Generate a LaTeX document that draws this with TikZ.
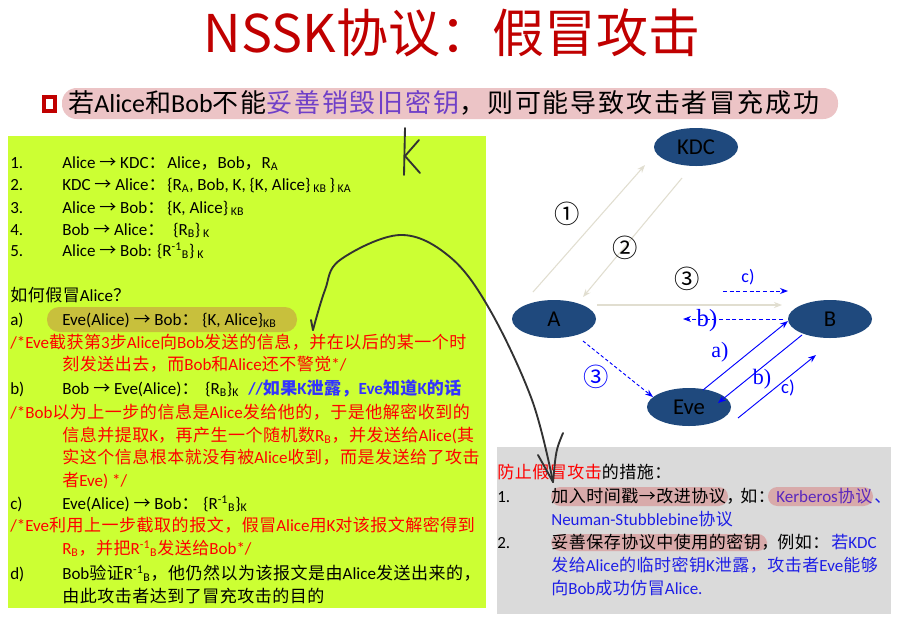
\documentclass[tikz,border=0pt]{standalone}
\usepackage{fontspec}
\usetikzlibrary{shapes.geometric,arrows.meta,calc}
\newfontfamily\cjkplain{Noto Sans CJK SC}
\newfontfamily\cjk[LetterSpace=3]{Noto Sans CJK SC}
\newfontfamily\cjkwide[LetterSpace=7]{Noto Sans CJK SC}
\newfontfamily\calibri{Carlito}
\newfontfamily\serifface{Liberation Serif}
% Han characters, CJK punctuation, full-width forms and arrows are set in the CJK face
% held by \hanfont, everything else in Carlito.
\let\hanfont\cjk
\XeTeXinterchartokenstate=1
\newXeTeXintercharclass\hanclass
\count255="4E00
\loop\XeTeXcharclass\count255=\hanclass\advance\count255 by 1 \ifnum\count255<"A000 \repeat
\count255="3000
\loop\XeTeXcharclass\count255=\hanclass\advance\count255 by 1 \ifnum\count255<"3040 \repeat
\count255="FF00
\loop\XeTeXcharclass\count255=\hanclass\advance\count255 by 1 \ifnum\count255<"FFF0 \repeat
\XeTeXcharclass"2192=\hanclass
\XeTeXinterchartoks 0 \hanclass = {\hanfont}
\XeTeXinterchartoks 4095 \hanclass = {\hanfont}
\XeTeXinterchartoks \hanclass 0 = {\calibri}
\XeTeXinterchartoks \hanclass 4095 = {\calibri}
\definecolor{titlered}{RGB}{192,0,0}
\definecolor{limebg}{RGB}{204,255,51}
\definecolor{graybg}{RGB}{218,218,218}
\definecolor{olivepill}{RGB}{200,192,60}
\definecolor{pinkpill}{RGB}{216,170,170}
\definecolor{headpill}{RGB}{236,196,198}
\definecolor{nodeblue}{RGB}{31,73,125}
\definecolor{paleline}{RGB}{225,222,208}
\definecolor{pureblue}{RGB}{0,0,255}
\definecolor{noteblue}{RGB}{51,51,255}
\definecolor{tipblue}{RGB}{30,30,230}
\definecolor{kbpurple}{RGB}{90,40,190}
\definecolor{keypurple}{RGB}{112,64,200}
\definecolor{inkgray}{RGB}{50,50,50}
\begin{document}
\begin{tikzpicture}[x=0.75pt,y=-0.75pt,
  body/.style={anchor=base west, inner sep=0pt, font=\calibri\fontsize{12.75}{15}\selectfont},
  redtxt/.style={body, text=red},
  party/.style={ellipse, fill=nodeblue, minimum width=63pt, minimum height=28.5pt, inner sep=0pt,
                font=\calibri\fontsize{17}{17}\selectfont, text=black},
  circnum/.style={font=\cjkplain\fontsize{19}{19}\selectfont},
  steplabel/.style={font=\serifface\fontsize{16.5}{17}\selectfont, text=pureblue},
  pale/.style={paleline, line width=0.8pt, -{Stealth[length=6pt,width=4.5pt]}},
  blu/.style={pureblue, line width=0.7pt, -{Stealth[length=6pt,width=4.5pt]}},
  bludash/.style={blu, dash pattern=on 3pt off 2pt},
  ink/.style={inkgray, line width=1.4pt, line cap=round, line join=round}
]
\useasboundingbox (0,0) rectangle (900,622);
\fill[white] (0,0) rectangle (900,622);

% heading
\node[font=\let\hanfont\cjkplain\cjkplain\fontsize{39}{39}\selectfont, text=titlered] (title) at (452,33) {NSSK协议：假冒攻击};
\fill[headpill, rounded corners=11pt] (62,88) rectangle (838,119);
\draw[titlered, line width=2.3pt] (44,97) rectangle (55,111);
\node[anchor=west, inner sep=0pt, font=\let\hanfont\cjkwide\cjkwide\fontsize{19.5}{20}\selectfont] (lead) at (68,103)
  {若Alice和Bob不能\textcolor{keypurple}{妥善销毁旧密钥}，则可能导致攻击者冒充成功};

% panels
\fill[limebg] (8,136) rectangle (486,608);
\fill[graybg] (497,447) rectangle (891,614);

% protocol steps
\node[body] (n1) at (10,168) {1.};
\node[body] (s1) at (62,168) {Alice → KDC：};
\node[body] (m1) at (167,168) {Alice，Bob，R\textsubscript{A}};
\node[body] (n2) at (10,190) {2.};
\node[body] (s2) at (62,190) {KDC → Alice：};
\node[body] (m2) at (167,190) {\{R\textsubscript{A}, Bob, K, \{K, Alice\}\,\textsubscript{KB}\,\}\,\textsubscript{KA}};
\node[body] (n3) at (10,213) {3.};
\node[body] (s3) at (62,213) {Alice → Bob：};
\node[body] (m3) at (167,213) {\{K, Alice\}\,\textsubscript{KB}};
\node[body] (n4) at (10,235) {4.};
\node[body] (s4) at (62,235) {Bob → Alice：};
\node[body] (m4) at (173,235) {\{R\textsubscript{B}\}\,\textsubscript{K}};
\node[body] (n5) at (10,256) {5.};
\node[body] (s5) at (62,256) {Alice → Bob: \{R\textsuperscript{-1}\textsubscript{B}\}\,\textsubscript{K}};

% attack
\node[body] (q) at (10,301) {如何假冒Alice？};
\fill[olivepill, rounded corners=9pt] (47,307) rectangle (297,332);
\node[body] (la) at (10,325) {a)};
\node[body] (sa) at (62,325) {Eve(Alice) → Bob：};
\node[body] (ma) at (202,325) {\{K, Alice\}\textsubscript{KB}};
\node[redtxt] (ra1) at (10,348) {/*Eve截获第3步Alice向Bob发送的信息，并在以后的某一个时};
\node[redtxt] (ra2) at (62,370) {刻发送出去，而Bob和Alice还不警觉*/};
\node[body] (lb) at (10,394) {b)};
\node[body] (sb) at (62,394) {Bob → Eve(Alice)：};
\node[body] (mb) at (205,394) {\{R\textsubscript{B}\}\textsubscript{K}};
\node[body, text=noteblue, font=\calibri\bfseries\fontsize{12.75}{15}\selectfont] (cb) at (248,394) {//如果K泄露，Eve知道K的话};
\node[redtxt] (rb1) at (10,418) {/*Bob以为上一步的信息是Alice发给他的，于是他解密收到的};
\node[redtxt] (rb2) at (62,441) {信息并提取K，再产生一个随机数R\textsubscript{B}，并发送给Alice(其};
\node[redtxt] (rb3) at (62,463) {实这个信息根本就没有被Alice收到，而是发送给了攻击};
\node[redtxt] (rb4) at (62,486) {者Eve) */};
\node[body] (lc) at (10,509) {c)};
\node[body] (sc) at (62,509) {Eve(Alice) → Bob：};
\node[body] (mc) at (203,509) {\{R\textsuperscript{-1}\textsubscript{B}\}\textsubscript{K}};
\node[redtxt] (rc1) at (10,531) {/*Eve利用上一步截取的报文，假冒Alice用K对该报文解密得到};
\node[redtxt] (rc2) at (62,554) {R\textsubscript{B}，并把R\textsuperscript{-1}\textsubscript{B}发送给Bob*/};
\node[body] (ld) at (10,579) {d)};
\node[body] (sd) at (62,579) {Bob验证R\textsuperscript{-1}\textsubscript{B}，他仍然以为该报文是由Alice发送出来的，};
\node[body] (sd2) at (62,602) {由此攻击者达到了冒充攻击的目的};

% countermeasures
\fill[pinkpill, rounded corners=7pt] (551,487) rectangle (728,506);
\fill[pinkpill, rounded corners=7pt] (768,487) rectangle (873,506);
\fill[pinkpill, rounded corners=7pt] (551,534) rectangle (767,551);
\node[body] (g0) at (497,478) {\textcolor{red}{防止假冒攻击}的措施：};
\node[body] (g1n) at (497,502) {1.};
\node[body] (g1) at (551,502) {加入时间戳→改进协议，};
\node[body] (g1b) at (740,502) {如：};
\node[body, text=kbpurple] (g1c) at (776,502) {Kerberos协议};
\node[body, text=tipblue] (g1d) at (874,502) {、};
\node[body, text=tipblue] (g1e) at (551,525) {Neuman-Stubblebine协议};
\node[body] (g2n) at (497,548) {2.};
\node[body] (g2) at (551,548) {妥善保存协议中使用的密钥，};
\node[body] (g2b) at (777,548) {例如：};
\node[body, text=tipblue] (g2c) at (831,548) {若KDC};
\node[body, text=tipblue] (g2d) at (551,571) {发给Alice的临时密钥K泄露，攻击者Eve能够};
\node[body, text=tipblue] (g2e) at (551,594) {向Bob成功仿冒Alice.};

% parties
\node[party] (KDC) at (696,147) {KDC};
\node[party] (A) at (554,319) {A};
\node[party] (B) at (830,319) {B};
\node[party] (Eve) at (689,407) {Eve};

% original run
\draw[pale] ($(A)+(-21,-27)$) -- ($(KDC)+(-51,18)$);
\draw[pale] ($(KDC)+(-14,31)$) -- ($(A)+(29,-22)$);
\draw[pale] ($(A)+(43,-14)$) -- ($(B)+(-48,-14)$);
\node[circnum] (k1) at (567,214) {①};
\node[circnum] (k2) at (625,248) {②};
\node[circnum] (k3) at (687,279) {③};

% attacker run
\coordinate (cs) at ($(B)+(-107,-28)$);
\coordinate (ce) at ($(B)+(-42,-28)$);
\draw[bludash] (cs) -- (ce);
\node[font=\calibri\fontsize{13.5}{14}\selectfont, text=pureblue] (lc1) at (748,277) {c)};
\draw[bludash] ($(B)+(-47,0)$) -- ($(A)+(129,0)$);
\node[steplabel, font=\serifface\fontsize{18.5}{19}\selectfont] (lb1) at (707,321) {b)};
\draw[blu, dash pattern=on 2.5pt off 1.8pt] ($(A)+(29,22)$) -- ($(Eve)+(-36,-10)$);
\node[circnum, text=pureblue] (k4) at (596,377) {③};
\draw[blu] ($(Eve)+(14,-17)$) -- ($(B)+(-42,2)$);
\node[steplabel] (la2) at (720,352) {a)};
\draw[blu] ($(B)+(-28,16)$) -- ($(Eve)+(29,-4)$);
\node[steplabel] (lb2) at (762,379) {b)};
\coordinate (c2s) at ($(Eve)+(49,11)$);
\draw[blu] (c2s) -- ($(B)+(-14,36)$);
\node[font=\calibri\fontsize{14}{14}\selectfont, text=pureblue] (lc2) at (788,388) {c)};

% hand-drawn marks
\draw[ink] (405,128) -- (404,175);
\draw[ink] (419,140) -- (405,156) -- (420,173);
\draw[ink] plot[smooth, tension=0.6] coordinates {(313,330) (325,290) (340,260) (400,235) (450,257) (490,310) (532,400) (553,482)};
\draw[ink] (311,320) -- (313,330);
\draw[ink] (538,455) -- (553,482);
\draw[ink] (563,433) .. controls (556,450) .. (553,482);
\end{tikzpicture}
\end{document}
